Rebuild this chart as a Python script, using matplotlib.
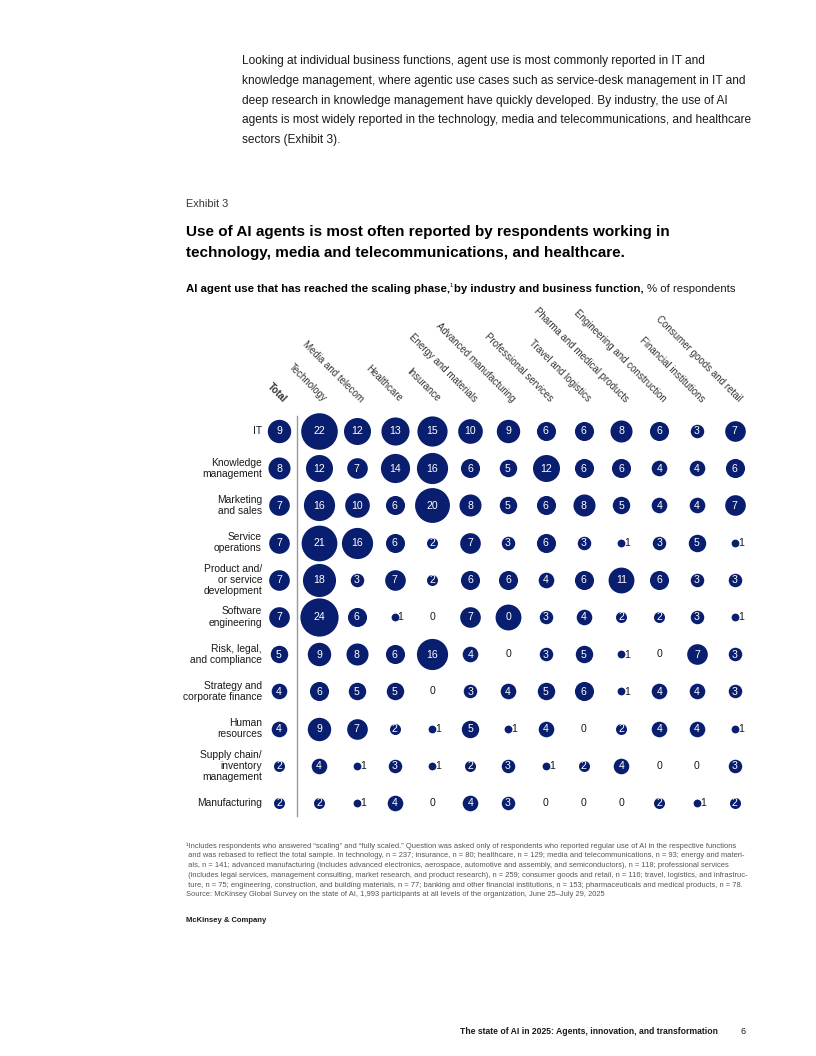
import numpy as np
import matplotlib
matplotlib.use("Agg")
import matplotlib.pyplot as plt

plt.rcParams["font.family"] = ["Liberation Sans", "DejaVu Sans"]

NAVY = "#0a1e70"
INK = "#1a1a1a"
INK_SECONDARY = "#333333"
INK_MUTED = "#555555"

# ── données ────────────────────────────────────────────────────────────
INDUSTRIES = [
    "Total", "Technology", "Media and telecom", "Healthcare", "Insurance",
    "Energy and materials", "Advanced manufacturing", "Professional services",
    "Travel and logistics", "Pharma and medical products",
    "Engineering and construction", "Financial institutions",
    "Consumer goods and retail",
]
FUNCTIONS = [
    "IT", "Knowledge\nmanagement", "Marketing\nand sales", "Service\noperations",
    "Product and/\nor service\ndevelopment", "Software\nengineering",
    "Risk, legal,\nand compliance", "Strategy and\ncorporate finance",
    "Human\nresources", "Supply chain/\ninventory\nmanagement", "Manufacturing",
]
VALUES = np.array([
    [9, 22, 12, 13, 15, 10, 9, 6, 6, 8, 6, 3, 7],
    [8, 12, 7, 14, 16, 6, 5, 12, 6, 6, 4, 4, 6],
    [7, 16, 10, 6, 20, 8, 5, 6, 8, 5, 4, 4, 7],
    [7, 21, 16, 6, 2, 7, 3, 6, 3, 1, 3, 5, 1],
    [7, 18, 3, 7, 2, 6, 6, 4, 6, 11, 6, 3, 3],
    [7, 24, 6, 1, 0, 7, 11, 3, 4, 2, 2, 3, 1],
    [5, 9, 8, 6, 16, 4, 0, 3, 5, 1, 0, 7, 3],
    [4, 6, 5, 5, 0, 3, 4, 5, 6, 1, 4, 4, 3],
    [4, 9, 7, 2, 1, 5, 1, 4, 0, 2, 4, 4, 1],
    [2, 4, 1, 3, 1, 2, 3, 1, 2, 4, 0, 0, 3],
    [2, 2, 1, 4, 0, 4, 3, 0, 0, 0, 2, 1, 2],
])
# l'original affiche "0" dans une bulle de taille ~11 (logiciel / services pro)
LABEL_OVERRIDES = {(5, 6): "0"}

PARAGRAPH = [
    "Looking at individual business functions, agent use is most commonly reported in IT and",
    "knowledge management, where agentic use cases such as service-desk management in IT and",
    "deep research in knowledge management have quickly developed. By industry, the use of AI",
    "agents is most widely reported in the technology, media and telecommunications, and healthcare",
    "sectors (Exhibit 3).",
]
TITLE = [
    "Use of AI agents is most often reported by respondents working in",
    "technology, media and telecommunications, and healthcare.",
]
FOOTNOTE = [
    "\u00b9Includes respondents who answered \u201cscaling\u201d and \u201cfully scaled.\u201d Question was asked only of respondents who reported regular use of AI in the respective functions",
    " and was rebased to reflect the total sample. In technology, n = 237; insurance, n = 80; healthcare, n = 129; media and telecommunications, n = 93; energy and materi-",
    " als, n = 141; advanced manufacturing (includes advanced electronics, aerospace, automotive and assembly, and semiconductors), n = 118; professional services",
    " (includes legal services, management consulting, market research, and product research), n = 259; consumer goods and retail, n = 116; travel, logistics, and infrastruc-",
    " ture, n = 75; engineering, construction, and building materials, n = 77; banking and other financial institutions, n = 153; pharmaceuticals and medical products, n = 78.",
    "Source: McKinsey Global Survey on the state of AI, 1,993 participants at all levels of the organization, June 25\u2013July 29, 2025",
]

# ── mise en page (pixels de la page) ───────────────────────────────────
W, H, DPI = 816, 1056, 100
X_TOTAL, X_FIRST, DX = 279, 319, 37.8
Y_FIRST, DY = 431, 37.2
D_PER_SQRT = 7.8  # diamètre (px) = 7.8 * sqrt(valeur)

fig = plt.figure(figsize=(W / DPI, H / DPI), dpi=DPI)
ax = fig.add_axes([0, 0, 1, 1])
ax.set_xlim(0, W)
ax.set_ylim(H, 0)
ax.axis("off")

col_x = np.array([X_TOTAL] + [X_FIRST + DX * i for i in range(len(INDUSTRIES) - 1)])
row_y = Y_FIRST + DY * np.arange(len(FUNCTIONS))

# texte d'introduction
for i, line in enumerate(PARAGRAPH):
    ax.text(242, 61 + i * 19.8, line, fontsize=8.55, color=INK, va="center")

ax.text(186, 204, "Exhibit 3", fontsize=7.8, color=INK_SECONDARY, va="center")
for i, line in enumerate(TITLE):
    ax.text(186, 232 + i * 21, line, fontsize=11, fontweight="bold", color="black", va="center")

# sous-titre : partie grasse + exposant + fin normale
SUB_FS = 8.2
renderer = fig.canvas.get_renderer()
t1 = ax.text(186, 289, "AI agent use that has reached the scaling phase,",
             fontsize=SUB_FS, fontweight="bold", color="black", va="center")
x = t1.get_window_extent(renderer).x1
t2 = fig.text(x / W, 1 - 286 / H, "1", fontsize=4.4, color="black", va="center")
x = t2.get_window_extent(renderer).x1 + 1
t3 = fig.text(x / W, 1 - 289 / H, "by industry and business function,",
              fontsize=SUB_FS, fontweight="bold", color="black", va="center")
x = t3.get_window_extent(renderer).x1 + 3
fig.text(x / W, 1 - 289 / H, "% of respondents", fontsize=SUB_FS, color=INK, va="center")

# en-têtes de colonnes inclinés
for j, name in enumerate(INDUSTRIES):
    ax.text(col_x[j] + 2, 404, name, rotation=-45, rotation_mode="anchor",
            ha="right", va="bottom", fontsize=7.0, color=INK_SECONDARY,
            fontweight="bold" if j == 0 else "normal")

# libellés de lignes
for i, name in enumerate(FUNCTIONS):
    ax.text(262, row_y[i], name, ha="right", va="center", fontsize=7.4,
            color=INK, linespacing=1.15)

# séparateur vertical entre Total et industries
ax.plot([297, 297], [416, 816], color="#9a9a9a", linewidth=1.0)

# bulles
for i in range(len(FUNCTIONS)):
    for j in range(len(INDUSTRIES)):
        v = VALUES[i, j]
        x, y = col_x[j], row_y[i]
        label = LABEL_OVERRIDES.get((i, j), str(v))
        if v == 0:
            ax.text(x, y, label, ha="center", va="center", fontsize=7.6, color=INK)
            continue
        d = D_PER_SQRT * np.sqrt(v)
        ax.scatter([x], [y], s=(d * 72 / DPI) ** 2, color=NAVY, linewidths=0, zorder=3)
        if v == 1:
            ax.text(x + 3, y + 0.5, label, ha="left", va="center", fontsize=7.6, color=INK, zorder=4)
        else:
            ax.text(x, y + 0.3, label, ha="center", va="center", fontsize=7.6, color="white", zorder=4)

# notes
for i, line in enumerate(FOOTNOTE):
    ax.text(186, 846 + i * 9.8, line, fontsize=5.42, color=INK_MUTED, va="center")

ax.text(186, 921, "McKinsey & Company", fontsize=5.5, fontweight="bold", color=INK, va="center")

ax.text(718, 1032, "The state of AI in 2025: Agents, innovation, and transformation",
        ha="right", fontsize=6.2, fontweight="bold", color=INK, va="center")
ax.text(743, 1032, "6", ha="center", fontsize=6.5, color=INK, va="center")

fig.savefig("out.png", dpi=DPI, facecolor="white")
